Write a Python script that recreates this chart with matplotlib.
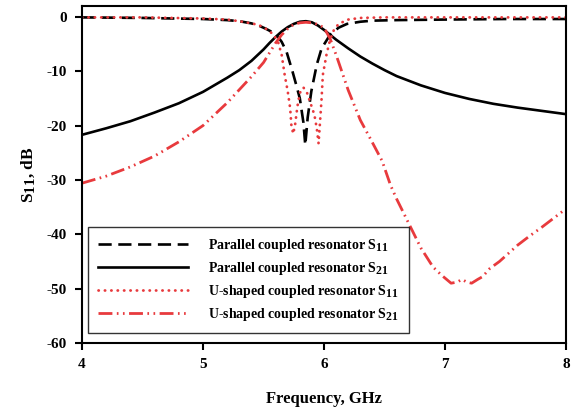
import matplotlib
matplotlib.use("Agg")
import matplotlib.pyplot as plt
import matplotlib._mathtext as mathtext_impl

# Larger subscripts, closer to the typeset look of the labels
mathtext_impl.SHRINK_FACTOR = 0.85

plt.rcParams["font.family"] = ["Liberation Serif", "DejaVu Serif"]
plt.rcParams["font.weight"] = "bold"
plt.rcParams["axes.unicode_minus"] = False
plt.rcParams["mathtext.fontset"] = "custom"
plt.rcParams["mathtext.rm"] = "Liberation Serif:bold"
plt.rcParams["mathtext.bf"] = "Liberation Serif:bold"
plt.rcParams["mathtext.it"] = "Liberation Serif:bold"

# Parallel coupled resonator, S21 (solid black)
par_s21_f = [4.0, 4.2, 4.4, 4.6, 4.8, 5.0, 5.1, 5.2, 5.3, 5.4, 5.5, 5.55, 5.6,
             5.65, 5.7, 5.75, 5.8, 5.85, 5.9, 5.95, 6.0, 6.05, 6.1, 6.2, 6.3,
             6.4, 6.5, 6.6, 6.8, 7.0, 7.2, 7.4, 7.6, 7.8, 8.0]
par_s21_db = [-21.7, -20.5, -19.2, -17.6, -15.9, -13.8, -12.5, -11.2, -9.8,
              -8.1, -6.0, -4.8, -3.7, -2.7, -1.9, -1.3, -0.9, -0.8, -1.0, -1.6,
              -2.4, -3.3, -4.2, -5.8, -7.3, -8.6, -9.8, -10.9, -12.6, -14.0,
              -15.1, -16.0, -16.7, -17.3, -17.9]

# Parallel coupled resonator, S11 (dashed black)
par_s11_f = [4.0, 4.5, 5.0, 5.2, 5.3, 5.4, 5.46, 5.52, 5.58, 5.62, 5.65, 5.69,
             5.74, 5.77, 5.80, 5.83, 5.845, 5.865, 5.895, 5.94, 5.98, 6.05,
             6.12, 6.19, 6.3, 6.4, 6.6, 7.0, 7.5, 8.0]
par_s11_db = [-0.1, -0.2, -0.4, -0.6, -0.8, -1.2, -1.6, -2.2, -2.9, -3.7,
              -4.6, -6.4, -10.1, -12.5, -15.0, -19.5, -23.6, -18.5, -13.7,
              -8.8, -5.8, -3.3, -2.0, -1.3, -0.9, -0.7, -0.6, -0.5, -0.4, -0.4]

# U-shaped coupled resonator, S11 (dotted red)
u_s11_f = [4.0, 4.5, 5.0, 5.2, 5.3, 5.4, 5.46, 5.52, 5.58, 5.62, 5.65, 5.675,
           5.70, 5.72, 5.73, 5.745, 5.76, 5.78, 5.80, 5.83, 5.86, 5.89, 5.92,
           5.94, 5.955, 5.965, 5.98, 5.99, 6.02, 6.05, 6.08, 6.12, 6.2, 6.3,
           6.5, 7.0, 8.0]
u_s11_db = [-0.1, -0.1, -0.3, -0.5, -0.8, -1.2, -1.5, -2.2, -3.2, -4.6, -7.0,
            -10.7, -13.7, -16.8, -19.9, -21.5, -20.0, -16.5, -14.0, -13.0,
            -14.0, -16.0, -18.0, -20.5, -23.3, -20.0, -15.0, -10.7, -7.0,
            -4.2, -2.5, -1.3, -0.5, -0.2, -0.1, -0.1, -0.1]

# U-shaped coupled resonator, S21 (dash-dot-dot red)
u_s21_f = [4.0, 4.2, 4.4, 4.6, 4.8, 5.0, 5.1, 5.2, 5.3, 5.4, 5.5, 5.55, 5.6,
           5.65, 5.7, 5.75, 5.8, 5.85, 5.9, 5.95, 6.0, 6.05, 6.1, 6.2, 6.3,
           6.38, 6.48, 6.55, 6.6, 6.7, 6.8, 6.9, 6.97, 7.05, 7.1, 7.14, 7.18,
           7.22, 7.27, 7.31, 7.37, 7.45, 7.51, 7.6, 7.7, 7.8, 7.9, 8.0]
u_s21_db = [-30.6, -29.3, -27.6, -25.6, -23.0, -20.0, -17.9, -15.8, -13.4,
            -11.0, -8.4, -6.6, -4.8, -3.3, -2.2, -1.4, -1.1, -1.0, -1.1, -1.4,
            -2.0, -4.0, -7.0, -13.5, -19.0, -22.3, -26.5, -31.0, -33.5, -38.0,
            -42.5, -46.0, -47.5, -49.0, -48.8, -48.3, -48.8, -49.0, -48.3,
            -47.8, -46.3, -45.0, -43.8, -42.0, -40.3, -38.7, -37.0, -35.3]

x_ticks = [4, 5, 6, 7, 8]
y_ticks = [0, -10, -20, -30, -40, -50, -60]

RED = "#e83a3d"

fig = plt.figure(figsize=(5.76, 4.12), dpi=100)
ax = fig.add_axes([0.1424, 0.1675, 0.8403, 0.818])

ax.plot(par_s11_f, par_s11_db, color="black", lw=1.9, dashes=(5, 2.5),
        label=r"Parallel coupled resonator S$_{11}$")
ax.plot(par_s21_f, par_s21_db, color="black", lw=1.9,
        label=r"Parallel coupled resonator S$_{21}$")
ax.plot(u_s11_f, u_s11_db, color=RED, lw=2.0, dashes=(0.1, 2.2),
        dash_capstyle="round",
        label=r"U-shaped coupled resonator S$_{11}$")
ax.plot(u_s21_f, u_s21_db, color=RED, lw=2.0,
        dashes=(5, 1.6, 0.6, 1.6, 0.6, 1.6),
        label=r"U-shaped coupled resonator S$_{21}$")

ax.set_xlim(4, 8)
ax.set_ylim(-60, 2)
ax.set_xticks(x_ticks)
ax.set_yticks(y_ticks)
ax.tick_params(direction="out", length=5, width=1.5, labelsize=11, pad=6)
for lab in ax.get_xticklabels() + ax.get_yticklabels():
    lab.set_fontweight("bold")
for sp in ax.spines.values():
    sp.set_linewidth(1.5)

ax.set_xlabel("Frequency, GHz", fontsize=12, fontweight="bold", labelpad=14)
ax.set_ylabel(r"S$_{11}$, dB", fontsize=12.5, fontweight="bold", labelpad=7)

leg = ax.legend(loc="lower left", bbox_to_anchor=(0.0124, 0.0297),
                fontsize=10, frameon=True, fancybox=False, handlelength=6.5,
                handletextpad=1.45, labelspacing=0.45, borderpad=0.7,
                borderaxespad=0)
leg.get_frame().set_edgecolor("black")
leg.get_frame().set_linewidth(1.0)
for t in leg.get_texts():
    t.set_fontweight("bold")

fig.savefig("out.png", dpi=100)
